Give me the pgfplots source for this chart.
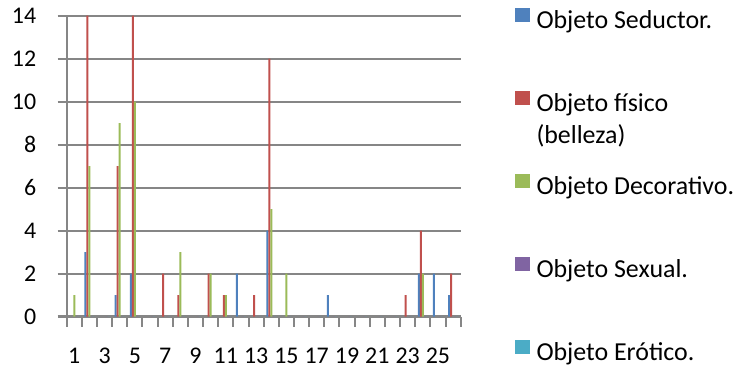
\documentclass[border=0pt]{standalone}
\usepackage{fontspec}
\setmainfont{Carlito}
\usepackage{pgfplots}
\pgfplotsset{compat=1.18}
\definecolor{serA}{RGB}{79,129,189}
\definecolor{serB}{RGB}{192,80,77}
\definecolor{serC}{RGB}{155,187,89}
\definecolor{serD}{RGB}{128,100,162}
\definecolor{serE}{RGB}{75,172,198}
\definecolor{gridgray}{RGB}{134,134,134}
\pgfplotsset{sqlegend/.style={legend image code/.code={\fill[##1] (0bp,0.5bp) rectangle (14.5bp,14.5bp);}}}

\begin{document}
\begin{tikzpicture}
\useasboundingbox (0,0) rectangle (747bp,374bp);
\begin{axis}[
  at={(66.7bp,57.5bp)}, anchor=south west,
  scale only axis, width=394bp, height=300.8bp,
  xmin=0.5, xmax=26.5, ymin=0, ymax=14,
  ybar=0pt, bar width=2bp,
  axis x line*=bottom, axis y line*=left,
  axis line style={gridgray, line width=2bp},
  xtick={1,3,5,7,9,11,13,15,17,19,21,23,25},
  xticklabels={1,3,5,7,9,11,13,15,17,19,21,23,25},
  minor xtick={0.5,1.5,2.5,3.5,4.5,5.5,6.5,7.5,8.5,9.5,10.5,11.5,12.5,13.5,
    14.5,15.5,16.5,17.5,18.5,19.5,20.5,21.5,22.5,23.5,24.5,25.5,26.5},
  major x tick style={draw=none},
  ytick={0,2,4,6,8,10,12,14},
  tick align=outside,
  tick style={gridgray, line width=2bp},
  major tick length=9bp, minor tick length=10bp,
  ymajorgrids, grid style={gridgray, line width=2bp},
  /pgf/number format/assume math mode=true,
  ticklabel style={font=\fontsize{24}{28}\selectfont, black},
  yticklabel style={xshift=-18bp},
  xticklabel style={yshift=-19bp},
  legend cell align=left,
  legend style={at={(1,1)}, anchor=north west, xshift=54.3bp, yshift=8.2bp,
    draw=none, fill=none, inner sep=0pt, outer sep=0pt,
    row sep=56.6bp, column sep=7bp,
    font=\fontsize{26}{32}\selectfont,
    nodes={inner sep=0pt, text height=18bp, text depth=6bp}},
]
% Objeto Seductor.
\addplot[fill=serA, draw=none, sqlegend] coordinates {
  (2,3) (4,1) (5,2) (12,2) (14,4) (18,1) (24,2) (25,2) (26,1)
};
\addlegendentry{Objeto Seductor.}
% Objeto fisico (belleza)
\addplot[fill=serB, draw=none, sqlegend] coordinates {
  (2,14) (4,7) (5,14) (7,2) (8,1) (10,2) (11,1) (13,1) (14,12) (23,1) (24,4) (26,2)
};
\addlegendentry{\vtop{\baselineskip=32bp\hbox{Objeto físico}\hbox{(belleza)}}}
% Objeto Decorativo.
\addplot[fill=serC, draw=none, sqlegend] coordinates {
  (1,1) (2,7) (4,9) (5,10) (8,3) (10,2) (11,1) (14,5) (15,2) (24,2)
};
\addlegendentry{Objeto Decorativo.}
% Objeto Sexual.
\addplot[fill=serD, draw=none, sqlegend] coordinates {
  (1,0) (2,0) (3,0) (4,0) (5,0) (6,0) (7,0) (8,0) (9,0) (10,0) (11,0) (12,0) (13,0)
  (14,0) (15,0) (16,0) (17,0) (18,0) (19,0) (20,0) (21,0) (22,0) (23,0) (24,0) (25,0) (26,0)
};
\addlegendentry{Objeto Sexual.}
% Objeto Erotico.
\addplot[fill=serE, draw=none, sqlegend] coordinates {
  (1,0) (2,0) (3,0) (4,0) (5,0) (6,0) (7,0) (8,0) (9,0) (10,0) (11,0) (12,0) (13,0)
  (14,0) (15,0) (16,0) (17,0) (18,0) (19,0) (20,0) (21,0) (22,0) (23,0) (24,0) (25,0) (26,0)
};
\addlegendentry{Objeto Erótico.}
\end{axis}
\end{tikzpicture}
\end{document}
